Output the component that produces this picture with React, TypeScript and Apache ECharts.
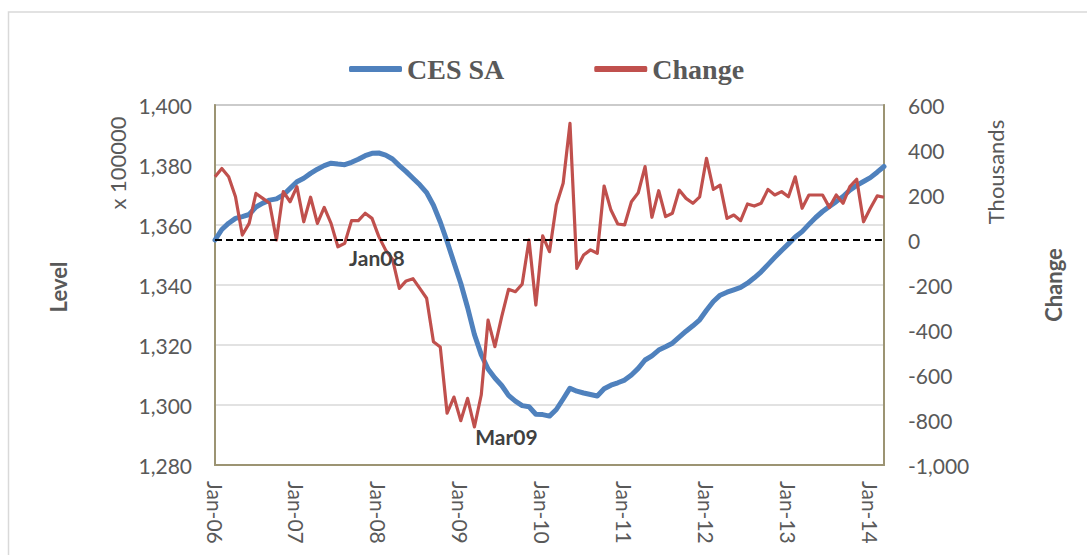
import React, { useEffect, useRef } from "react";
import * as echarts from "echarts";

const MONTHS = ["Jan", "Feb", "Mar", "Apr", "May", "Jun", "Jul", "Aug", "Sep", "Oct", "Nov", "Dec"];
const YEARS = ["06", "07", "08", "09", "10", "11", "12", "13", "14"];
const N_POINTS = 99; // Jan-06 .. Mar-14

const CATEGORIES: string[] = [];
for (const y of YEARS) for (const m of MONTHS) if (CATEGORIES.length < N_POINTS) CATEGORIES.push(`${m}-${y}`);

// CES SA level (x 100000)
const CES_SA = [
  1355.0, 1358.5, 1360.6, 1362.2, 1362.8, 1363.5, 1366.0, 1367.3, 1368.3, 1368.7, 1370.0, 1372.2,
  1374.4, 1375.6, 1377.2, 1378.6, 1379.8, 1380.6, 1380.3, 1380.1, 1380.9, 1381.9, 1383.1, 1383.9,
  1384.0, 1383.3, 1382.0, 1379.8, 1377.8, 1375.6, 1373.4, 1370.8, 1366.6, 1361.0, 1354.5, 1347.5,
  1340.6, 1332.5, 1323.5, 1316.8, 1312.0, 1309.0, 1306.5, 1303.2, 1301.3, 1299.8, 1299.4, 1296.9,
  1296.8, 1296.3, 1298.5, 1302.0, 1305.6, 1304.6, 1304.0, 1303.5, 1303.0, 1305.4, 1306.6, 1307.4,
  1308.3, 1310.0, 1312.2, 1315.0, 1316.4, 1318.3, 1319.4, 1320.6, 1322.6, 1324.6, 1326.4, 1328.4,
  1331.6, 1334.5, 1336.6, 1337.6, 1338.4, 1339.2, 1340.6, 1342.4, 1344.4, 1346.8, 1349.2, 1351.5,
  1353.7, 1356.0, 1357.8, 1360.2, 1362.5, 1364.5, 1366.2, 1367.8, 1369.5, 1371.6, 1373.2, 1374.5,
  1375.8, 1377.6, 1379.5,
];

// Monthly change (thousands)
const CHANGE = [
  281, 318, 281, 192, 22, 74, 207, 185, 163, 0, 215, 170,
  237, 81, 190, 74, 145, 74, -30, -15, 86, 86, 119, 96,
  15, -45, -85, -215, -182, -172, -215, -259, -452, -476, -770, -698,
  -803, -704, -831, -689, -356, -474, -341, -219, -230, -196, 0, -289,
  18, -52, 156, 252, 518, -126, -67, -44, -59, 240, 133, 71,
  67, 170, 210, 326, 101, 219, 104, 119, 222, 185, 163, 192,
  363, 225, 244, 96, 111, 86, 160, 151, 163, 225, 200, 215,
  192, 281, 141, 200, 200, 200, 145, 200, 163, 237, 270, 81,
  141, 196, 190,
];

const LEFT_MIN = 1280, LEFT_MAX = 1400, LEFT_STEP = 20;
const RIGHT_MIN = -1000, RIGHT_MAX = 600, RIGHT_STEP = 200;

const ANNOTATIONS = [
  { index: 24, text: "Jan08", offset: [-2, 21] },
  { index: 38, text: "Mar09", offset: [32, 10] },
];

const SANS = "Lato, 'Open Sans', sans-serif";
const GREY = "#595959";
const OLIVE = "#9C9473";

export default function App() {
  const ref = useRef<HTMLDivElement>(null);
  useEffect(() => {
    if (!ref.current) return;
    const chart = echarts.init(ref.current, undefined, { renderer: "svg" });
    const fmt = (v: number) => v.toLocaleString("en-US");
    chart.setOption({
      animation: false,
      backgroundColor: "#fff",
      grid: {
        left: 215, right: 203, top: 105, bottom: 90,
        show: true, borderColor: "#868686", borderWidth: 1.5, backgroundColor: "transparent",
      },
      legend: {
        left: 344, top: 50,
        itemWidth: 53, itemHeight: 6, itemGap: 90, icon: "roundRect",
        textStyle: { fontFamily: "'Liberation Serif', 'Times New Roman', serif", fontWeight: "bold", fontSize: 28, color: GREY },
        data: ["CES SA", "Change"],
      },
      xAxis: {
        type: "category",
        data: CATEGORIES,
        boundaryGap: false,
        axisLine: { show: true, onZero: false, lineStyle: { color: OLIVE, width: 2 } },
        axisTick: { show: false },
        axisLabel: {
          interval: (i: number) => i % 12 === 0,
          rotate: -90,
          margin: 16,
          color: GREY,
          fontFamily: SANS,
          fontSize: 21,
        },
        splitLine: { show: false },
      },
      yAxis: [
        {
          type: "value",
          min: LEFT_MIN, max: LEFT_MAX, interval: LEFT_STEP,
          position: "left",
          axisLine: { show: true, lineStyle: { color: OLIVE, width: 2 } },
          axisTick: { show: false },
          axisLabel: { formatter: fmt, color: GREY, fontFamily: SANS, fontSize: 21, margin: 23 },
          splitLine: { show: true, lineStyle: { color: "#D9D9D9", width: 1.5 } },
        },
        {
          type: "value",
          min: RIGHT_MIN, max: RIGHT_MAX, interval: RIGHT_STEP,
          position: "right",
          axisLine: { show: true, lineStyle: { color: OLIVE, width: 2 } },
          axisTick: { show: false },
          axisLabel: { formatter: fmt, color: GREY, fontFamily: SANS, fontSize: 21, margin: 24 },
          splitLine: { show: false },
        },
      ],
      series: [
        {
          name: "CES SA",
          type: "line",
          yAxisIndex: 0,
          data: CES_SA,
          showSymbol: false,
          symbol: "none",
          color: "#4F81BD",
          lineStyle: { color: "#4F81BD", width: 5, cap: "round", join: "round" },
          z: 2,
        },
        {
          name: "Change",
          type: "line",
          yAxisIndex: 1,
          data: CHANGE,
          showSymbol: false,
          symbol: "none",
          color: "#C0504D",
          lineStyle: { color: "#C0504D", width: 3.2, join: "round" },
          z: 3,
          markLine: {
            silent: true,
            symbol: "none",
            label: { show: false },
            lineStyle: { color: "#000", type: [7, 4], width: 2 },
            data: [{ yAxis: 0 }],
          },
          markPoint: {
            silent: true,
            symbol: "circle",
            symbolSize: 1,
            itemStyle: { color: "rgba(0,0,0,0)" },
            data: ANNOTATIONS.map((a) => ({
              coord: [CATEGORIES[a.index], CHANGE[a.index]],
              label: {
                show: true,
                position: "inside",
                formatter: a.text,
                offset: a.offset,
                color: "#404040",
                fontFamily: SANS,
                fontWeight: "bold",
                fontSize: 21,
              },
            })),
          },
        },
      ],
      graphic: [
        {
          type: "rect",
          silent: true,
          shape: { x: 8.5, y: 12, width: 1200, height: 700 },
          style: { fill: "none", stroke: "#D9D9D9", lineWidth: 1.5 },
          z: -10,
        },
        {
          type: "text", x: 58, y: 287, rotation: Math.PI / 2,
          style: { text: "Level", fontFamily: SANS, fontWeight: "bold", fontSize: 22, fill: GREY, align: "center", verticalAlign: "middle" },
        },
        {
          type: "text", x: 117, y: 163, rotation: Math.PI / 2,
          style: { text: "x 100000", fontFamily: SANS, fontSize: 22, fill: GREY, align: "center", verticalAlign: "middle" },
        },
        {
          type: "text", x: 995, y: 172, rotation: Math.PI / 2,
          style: { text: "Thousands", fontFamily: SANS, fontSize: 22, fill: GREY, align: "center", verticalAlign: "middle" },
        },
        {
          type: "text", x: 1053, y: 285, rotation: Math.PI / 2,
          style: { text: "Change", fontFamily: SANS, fontWeight: "bold", fontSize: 22, fill: GREY, align: "center", verticalAlign: "middle" },
        },
      ],
    });
    return () => chart.dispose();
  }, []);
  return <div ref={ref} style={{ position: "fixed", left: 0, top: 0, width: 1087, height: 555 }} />;
}
